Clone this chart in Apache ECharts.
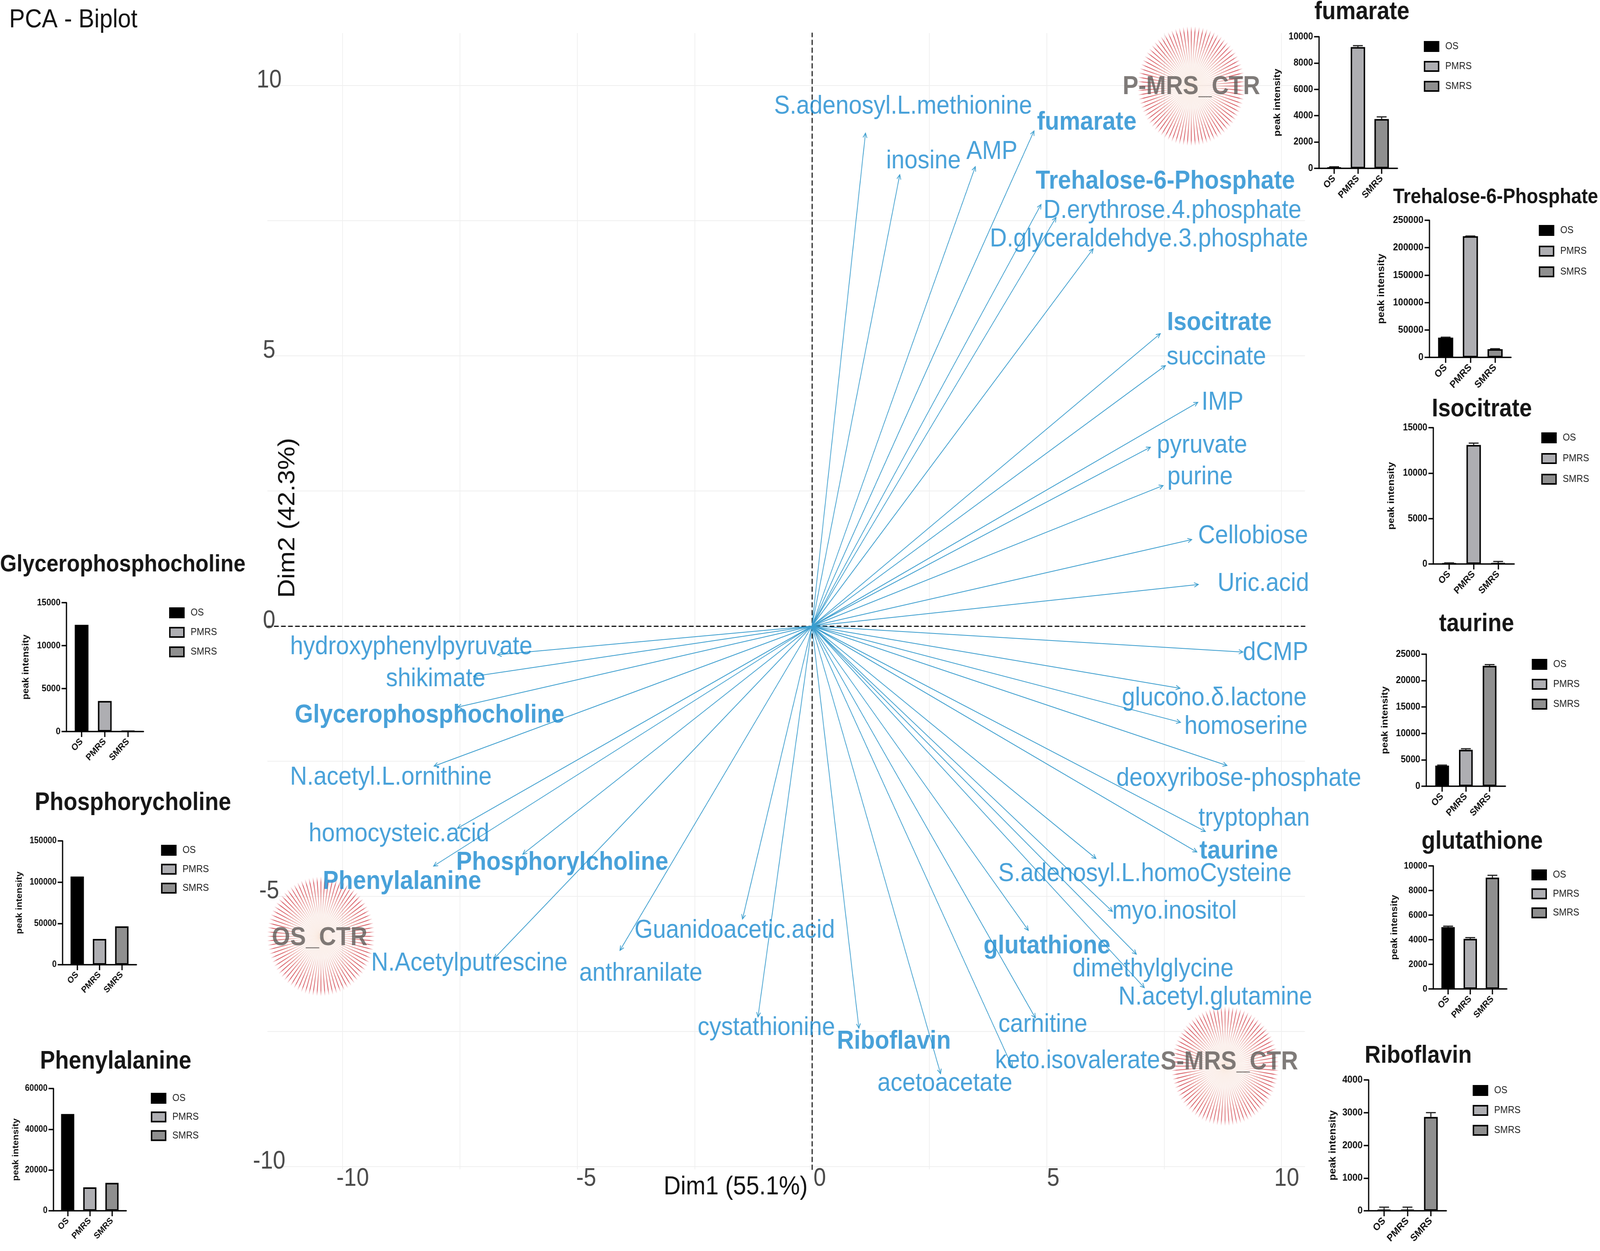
<!DOCTYPE html>
<html>
<head>
<meta charset="utf-8">
<style>html,body{margin:0;padding:0;background:#fff;overflow:hidden}#c{width:4550px;height:3203px;transform-origin:0 0}</style>
<script src="https://cdn.jsdelivr.net/npm/echarts@6/dist/echarts.min.js"></script>
</head>
<body>
<div id="c"></div>
<script>
// ---------- biplot data ----------
const variableNames = ["S.adenosyl.L.methionine","inosine","AMP","fumarate","Trehalose-6-Phosphate","D.erythrose.4.phosphate","D.glyceraldehdye.3.phosphate","Isocitrate","succinate","IMP","pyruvate","purine","Cellobiose","Uric.acid","dCMP","glucono.δ.lactone","homoserine","deoxyribose-phosphate","tryptophan","taurine","S.adenosyl.L.homoCysteine","myo.inositol","glutathione","dimethylglycine","N.acetyl.glutamine","carnitine","keto.isovalerate","acetoacetate","Riboflavin","cystathionine","anthranilate","Guanidoacetic.acid","N.Acetylputrescine","Phenylalanine","Phosphorylcholine","homocysteic.acid","N.acetyl.L.ornithine","Glycerophosphocholine","shikimate","hydroxyphenylpyruvate"];
const dim1 = [1.14,1.87,3.48,4.73,4.88,5.20,5.99,7.42,7.53,8.22,7.21,7.48,8.09,8.23,9.18,7.84,7.85,8.84,8.38,8.20,6.05,6.40,4.61,6.91,7.08,4.76,4.27,2.74,1.00,-1.15,-4.09,-1.48,-6.77,-8.06,-6.16,-7.55,-8.05,-7.55,-7.21,-6.70];
const dim2 = [9.12,8.35,8.50,9.16,7.80,7.56,6.98,5.41,4.82,4.14,3.31,2.60,1.60,0.77,-0.48,-1.15,-1.78,-2.58,-3.80,-4.18,-4.30,-5.28,-5.63,-6.07,-6.69,-7.25,-8.16,-8.28,-7.44,-7.23,-6.00,-5.42,-6.15,-4.44,-4.22,-3.74,-2.59,-1.50,-0.93,-0.53];
const boldNames = ["fumarate","Trehalose-6-Phosphate","Isocitrate","taurine","glutathione","Riboflavin","Phenylalanine","Phosphorylcholine","Glycerophosphocholine"];
const groupNames = ["P-MRS_CTR","OS_CTR","S-MRS_CTR"];
const groupDim1 = [8.08,-10.46,8.80];
const groupDim2 = [9.99,-5.74,-8.14];
const xTicks = [-10,-5,0,5,10];
const yTicks = [-10,-5,0,5,10];
const gridTicks = [-10,-7.5,-5,-2.5,0,2.5,5,7.5,10];

// ---------- bar panel data ----------
const barGroups = ["OS","PMRS","SMRS"];
const fumarateVals = [60,9210,3750],   fumarateErr = [60,110,160];
const trehaloseVals = [36000,221000,15000], trehaloseErr = [800,300,800];
const isocitrateVals = [40,13100,80],  isocitrateErr = [80,200,200];
const taurineVals = [3900,6900,22800], taurineErr = [100,200,230];
const glutathioneVals = [5020,4070,9050], glutathioneErr = [80,100,185];
const riboflavinVals = [30,30,2870],   riboflavinErr = [80,80,130];
const glyceroVals = [12420,3560,75];
const phosphoVals = [106800,31200,46500];
const phenylVals = [47500,11500,13700];

// ---------- layout (pixels) ----------
const FONT = '"Liberation Sans", Arial, sans-serif';
const PX = {x0:2309, y0:1603, ux:133.5, uy:138.4};
const toX = px => (px-PX.x0)/PX.ux, toY = py => (PX.y0-py)/PX.uy;
const DISP = 2.9018;
const labelAnchors = [[885,94],[905,142],[972,134],[1065,108],[1142,160],[1149,186],[1126,211],[1195,285],[1192,315],[1198,355],[1178,393],[1176,421],[1228,473],[1238,515],[1250,576],[1190,616],[1221,641],[1214,687],[1229,722],[1214,751],[1122,771],[1151,804],[1026,835],[1130,855],[1191,880],[1022,904],[1056,936],[926,956],[876,919],[751,907],[628,859],[720,821],[460,850],[394,778],[551,761],[391,736],[383,686],[421,631],[427,599],[403,571]];
const groupLabelPx = [[3388,223],[909,2402],[3496,2720]];

const panels = [
 {t:"fumarate",tx:3873,ty:31,tf:64,ax:3751,end:3974,top:94,zero:431,t0:3794,step:67.5,bw:45,lx:4049,ly:105,ls:47,max:10000,int:2000,gap:105,fs:25,vals:fumarateVals,errs:fumarateErr},
 {t:"Trehalose-6-Phosphate",tx:4253,ty:505,tf:53,ax:4065,end:4297,top:564,zero:915,t0:4111,step:70.3,bw:47,lx:4376,ly:576,ls:49,max:250000,int:50000,gap:123,fs:26,vals:trehaloseVals,errs:trehaloseErr},
 {t:"Isocitrate",tx:4214,ty:1048,tf:64,ax:4076,end:4306,top:1095,zero:1444,t0:4121,step:69.7,bw:45,lx:4383,ly:1107,ls:49,max:15000,int:5000,gap:106,fs:25,vals:isocitrateVals,errs:isocitrateErr},
 {t:"taurine",tx:4199,ty:1598,tf:64,ax:4056,end:4281,top:1675,zero:2013,t0:4101,step:67.5,bw:43,lx:4356,ly:1687,ls:47,max:25000,int:5000,gap:104,fs:25,vals:taurineVals,errs:taurineErr},
 {t:"glutathione",tx:4215,ty:2155,tf:64,ax:4076,end:4285,top:2217,zero:2532,t0:4118,step:63,bw:42,lx:4355,ly:2226,ls:44.6,max:10000,int:2000,gap:97,fs:24,vals:glutathioneVals,errs:glutathioneErr},
 {t:"Riboflavin",tx:4033,ty:2704,tf:63,ax:3892,end:4113,top:2765,zero:3100,t0:3936,step:66.5,bw:43,lx:4188,ly:2778,ls:47,max:4000,int:1000,gap:88,fs:26,vals:riboflavinVals,errs:riboflavinErr},
 {t:"Glycerophosphocholine",tx:349,ty:1446,tf:61,ax:189,end:408,top:1543,zero:1873,t0:232,step:66,bw:43,lx:481,ly:1555,ls:46,max:15000,int:5000,gap:102,fs:24,vals:glyceroVals,errs:null},
 {t:"Phosphorycholine",tx:378,ty:2056,tf:64,ax:178,end:388,top:2153,zero:2470,t0:219.6,step:63.4,bw:42,lx:458,ly:2163,ls:44.5,max:150000,int:50000,gap:111,fs:23,vals:phosphoVals,errs:null},
 {t:"Phenylalanine",tx:329,ty:2718,tf:64,ax:152,end:359,top:2787,zero:3100,t0:192.4,step:63,bw:41.5,lx:429,ly:2798,ls:43.7,max:60000,int:20000,gap:95,fs:23,vals:phenylVals,errs:null}
];
const barFills = {OS:'#000000',PMRS:'#aeaeb2',SMRS:'#8f8f8f'};

// ---------- option ----------
const LEFT = toX(760.4), RIGHT = 10.5, TOP = 10.97, BOTTOM = -10.05;
const gridBox = {left:PX.x0+LEFT*PX.ux, width:(RIGHT-LEFT)*PX.ux, top:PX.y0-TOP*PX.uy, height:(TOP-BOTTOM)*PX.uy};
const tickFont = {fontFamily:FONT,fontSize:64,color:'#4a4a4a'};
const dashed = {show:true,onZero:true,lineStyle:{color:'#111',width:3,type:[11,9]}};
const gridLine = {show:true,lineStyle:{color:'#efefef',width:2}};

const option = {
  backgroundColor:'#ffffff', animation:false,
  title:[
    {text:'PCA - Biplot',left:26,top:52,padding:0,textAlign:'left',textVerticalAlign:'middle',textStyle:{fontFamily:FONT,fontSize:67,fontWeight:'normal',color:'#111'}},
    {text:'Dim1 (55.1%)',left:2092,top:3040,padding:0,textAlign:'center',textVerticalAlign:'middle',textStyle:{fontFamily:FONT,fontSize:67,fontWeight:'normal',color:'#111'}}
  ],
  graphic:[{type:'text',x:819,y:1326,rotation:Math.PI/2,z:5,style:{text:'Dim2 (42.3%)',align:'center',verticalAlign:'middle',font:'67px '+FONT,fill:'#111'}}],
  grid:[Object.assign({},gridBox)],
  legend:[],
  xAxis:[
    {type:'value',gridIndex:0,min:LEFT,max:RIGHT,position:'bottom',axisLine:dashed,axisTick:{show:false,customValues:gridTicks},axisLabel:{show:false},splitLine:gridLine},
    {type:'value',gridIndex:0,min:(gridBox.left-2331)/132.8,max:(gridBox.left+gridBox.width-2331)/132.8,position:'bottom',axisLine:{show:false,onZero:false},axisTick:{show:false,customValues:xTicks},splitLine:{show:false},axisLabel:Object.assign({show:true,customValues:xTicks,margin:-8},tickFont)}
  ],
  yAxis:[
    {type:'value',gridIndex:0,min:BOTTOM,max:TOP,position:'left',axisLine:dashed,axisTick:{show:false,customValues:gridTicks},axisLabel:{show:false},splitLine:gridLine},
    {type:'value',gridIndex:0,min:(1590-(gridBox.top+gridBox.height))/138.4,max:(1590-gridBox.top)/138.4,position:'left',axisLine:{show:false,onZero:false},axisTick:{show:false,customValues:yTicks},splitLine:{show:false},axisLabel:Object.assign({show:true,customValues:yTicks,margin:-5,align:'center'},tickFont)}
  ],
  series:[]
};

// red starbursts behind the group labels
option.series.push({
  type:'custom',coordinateSystem:'cartesian2d',xAxisIndex:0,yAxisIndex:0,silent:true,z:2,
  data:groupNames.map((n,i)=>[groupDim1[i],groupDim2[i]]),
  renderItem(params,api){
    const c = api.coord([api.value(0),api.value(1)]);
    const kids = [], R = 153, N = 84;
    for(let k=0;k<N;k++){
      const a = k/N*Math.PI*2, ca=Math.cos(a), sa=Math.sin(a);
      const x1=c[0]+4*ca,y1=c[1]+4*sa,x2=c[0]+R*ca,y2=c[1]+R*sa;
      kids.push({type:'line',shape:{x1,y1,x2,y2},style:{lineWidth:2.2,stroke:{type:'linear',global:true,x:x1,y:y1,x2:x2,y2:y2,colorStops:[
        {offset:0,color:'rgba(248,225,210,0.25)'},{offset:0.35,color:'rgba(240,195,180,0.45)'},{offset:0.75,color:'rgba(214,80,85,0.85)'},{offset:0.9,color:'rgba(206,50,62,0.8)'},{offset:1,color:'rgba(220,70,80,0)'}]}}});
    }
    return {type:'group',children:kids};
  }
});

// loading arrows
option.series.push({
  type:'custom',coordinateSystem:'cartesian2d',xAxisIndex:0,yAxisIndex:0,silent:true,z:3,
  data:variableNames.map((n,i)=>[dim1[i],dim2[i]]),
  renderItem(params,api){
    const o = api.coord([0,0]), t = api.coord([api.value(0),api.value(1)]);
    const a = Math.atan2(t[1]-o[1],t[0]-o[0]), h = 13, w = 0.45;
    const st = {stroke:'#3a9dce',lineWidth:2,fill:null};
    return {type:'group',children:[
      {type:'line',shape:{x1:o[0],y1:o[1],x2:t[0],y2:t[1]},style:st},
      {type:'polyline',shape:{points:[[t[0]-h*Math.cos(a-w),t[1]-h*Math.sin(a-w)],t,[t[0]-h*Math.cos(a+w),t[1]-h*Math.sin(a+w)]]},style:st}
    ]};
  }
});

// variable names
option.series.push({
  type:'scatter',xAxisIndex:0,yAxisIndex:0,symbolSize:0,silent:true,clip:false,z:6,
  data:variableNames.map((n,i)=>({name:n,value:[toX(labelAnchors[i][0]*DISP),toY(labelAnchors[i][1]*DISP)],
    label:{fontWeight:boldNames.includes(n)?'bold':'normal'}})),
  label:{show:true,position:'inside',formatter:'{b}',fontFamily:FONT,fontSize:67,color:'#1a8ad0'}
});
// group names
option.series.push({
  type:'scatter',xAxisIndex:0,yAxisIndex:0,symbolSize:0,silent:true,clip:false,z:7,
  data:groupNames.map((n,i)=>({name:n,value:[toX(groupLabelPx[i][0]),toY(groupLabelPx[i][1])]})),
  label:{show:true,position:'inside',formatter:'{b}',fontFamily:FONT,fontSize:67,fontWeight:'bold',color:'#5f5a58'}
});

// bar panels
panels.forEach((p,i)=>{
  const gi = i+1, ai = i+2;
  option.title.push({text:p.t,left:p.tx,top:p.ty,padding:0,textAlign:'center',textVerticalAlign:'middle',textStyle:{fontFamily:FONT,fontSize:p.tf,fontWeight:'bold',color:'#161616'}});
  option.grid.push({left:p.ax,width:p.end-p.ax,top:p.top,height:p.zero-p.top});
  const axisStyle = {show:true,onZero:false,lineStyle:{color:'#000',width:3.5}};
  const tickStyle = {show:true,length:14,lineStyle:{color:'#000',width:3.5}};
  option.xAxis.push({type:'value',gridIndex:gi,min:(p.ax-p.t0)/p.step,max:(p.end-p.t0)/p.step,position:'bottom',
    axisLine:axisStyle,axisTick:Object.assign({customValues:[0,1,2]},tickStyle),splitLine:{show:false},
    axisLabel:{show:true,customValues:[0,1,2],rotate:45,margin:22,fontFamily:FONT,fontSize:p.fs,fontWeight:'bold',color:'#111',formatter:v=>barGroups[Math.round(v)]}});
  option.yAxis.push({type:'value',gridIndex:gi,min:0,max:p.max,interval:p.int,position:'left',
    axisLine:axisStyle,axisTick:tickStyle,splitLine:{show:false},
    axisLabel:{show:true,margin:17,fontFamily:FONT,fontSize:p.fs,fontWeight:'bold',color:'#111',formatter:v=>String(v)},
    name:'peak intensity',nameLocation:'middle',nameGap:p.gap,nameTextStyle:{fontFamily:FONT,fontSize:p.fs+1,fontWeight:'bold',color:'#111'}});
  barGroups.forEach((g,k)=>{
    option.series.push({type:'bar',name:g,xAxisIndex:ai,yAxisIndex:ai,barWidth:p.bw-4,barGap:'-100%',silent:true,z:3,
      itemStyle:{color:barFills[g],borderColor:'#000',borderWidth:4},data:[[k,p.vals[k]]]});
  });
  if(p.errs){
    option.series.push({type:'custom',coordinateSystem:'cartesian2d',xAxisIndex:ai,yAxisIndex:ai,silent:true,z:2,
      data:p.vals.map((v,k)=>[k,v,p.errs[k]]),
      renderItem(params,api){
        const b = api.coord([api.value(0),api.value(1)]), t = api.coord([api.value(0),api.value(1)+api.value(2)]);
        const st = {stroke:'#222',lineWidth:3};
        return {type:'group',children:[
          {type:'line',shape:{x1:b[0],y1:b[1],x2:t[0],y2:t[1]},style:st},
          {type:'line',shape:{x1:t[0]-14,y1:t[1],x2:t[0]+14,y2:t[1]},style:st}
        ]};
      }
    });
  }
  option.legend.push({show:true,orient:'vertical',left:p.lx,top:p.ly,padding:0,itemWidth:40,itemHeight:24,itemGap:p.ls-24,align:'left',
    data:barGroups,selectedMode:false,icon:'rect',itemStyle:{borderColor:'#000',borderWidth:4},
    textStyle:{fontFamily:FONT,fontSize:26,color:'#222',padding:[0,0,0,14]}});
});

// The page fills the window: the 4550x3203 drawing is fitted to whatever the browser really provides.
const host = document.getElementById('c');
host.style.transform = 'scale(' + (window.innerWidth/4550) + ',' + (window.innerHeight/3203) + ')';
const chart = echarts.init(host,null,{renderer:'canvas',width:4550,height:3203});
chart.setOption(option);
</script>
</body>
</html>
